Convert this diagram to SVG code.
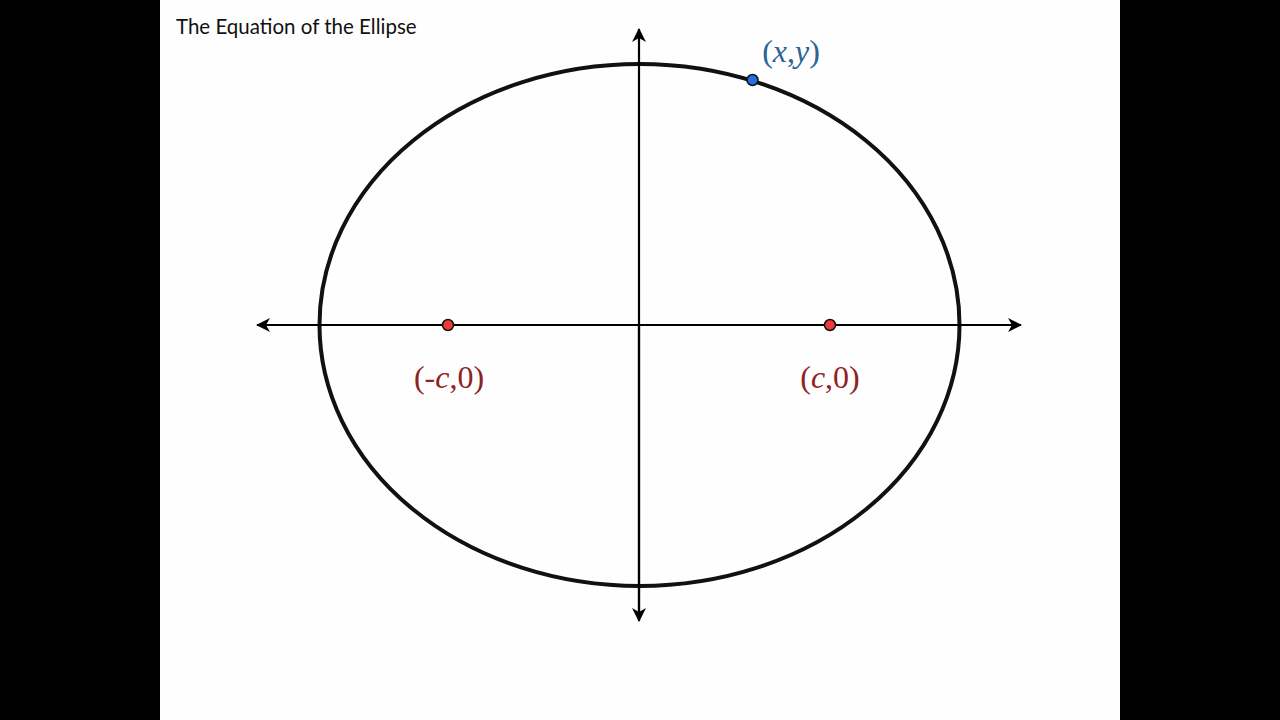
<svg xmlns="http://www.w3.org/2000/svg" width="1280" height="720" viewBox="0 0 1280 720">
<defs>
<marker id="arr" markerWidth="16" markerHeight="14" refX="13" refY="7" orient="auto" markerUnits="userSpaceOnUse">
<path d="M0,0 L14,7 L0,14 L4,7 Z" fill="#000"/>
</marker>
<style>
.axis{stroke:#000;stroke-width:2.2;fill:none}
.lbl{font-family:"Liberation Serif",serif;font-size:32px;text-anchor:middle}
.red{fill:#8e2323}
.blue{fill:#2c6494}
</style>
</defs>
<rect x="0" y="0" width="1280" height="720" fill="#000"/>
<rect x="160" y="0" width="960" height="720" fill="#fefefe"/>
<text x="176" y="34" font-family="Lato, 'Open Sans', sans-serif" font-size="20.5" fill="#111">The Equation of the Ellipse</text>
<g id="ellipse">
<ellipse cx="639.5" cy="325" rx="320" ry="261" fill="none" stroke="#111" stroke-width="4"/>
</g>
<g id="connectors">
<line class="axis" x1="639" y1="620" x2="639" y2="29" marker-end="url(#arr)"/>
<line class="axis" x1="639" y1="325" x2="639" y2="621" marker-end="url(#arr)"/>
<line class="axis" x1="640" y1="325" x2="1021" y2="325" marker-end="url(#arr)"/>
<line class="axis" x1="640" y1="325" x2="257" y2="325" marker-end="url(#arr)"/>
</g>
<g id="point-xy">
<circle cx="752.5" cy="80" r="5.5" fill="#1f6fe5" stroke="#111" stroke-width="1.5"/>
<text class="lbl blue" x="791" y="62">(<tspan font-style="italic">x</tspan>,<tspan font-style="italic">y</tspan>)</text>
</g>
<g id="focus-left">
<circle cx="448" cy="325" r="5.5" fill="#f03a3a" stroke="#111" stroke-width="1.5"/>
<text class="lbl red" x="449" y="388">(-<tspan font-style="italic">c</tspan>,0)</text>
</g>
<g id="focus-right">
<circle cx="830" cy="325" r="5.5" fill="#f03a3a" stroke="#111" stroke-width="1.5"/>
<text class="lbl red" x="830" y="388">(<tspan font-style="italic">c</tspan>,0)</text>
</g>
</svg>
